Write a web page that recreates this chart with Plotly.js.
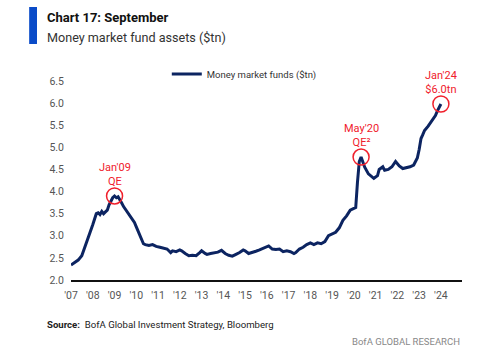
<!DOCTYPE html>
<html>
<head>
<meta charset="utf-8">
<script src="https://cdn.plot.ly/plotly-3.0.1.min.js"></script>
<style>
html,body{margin:0;padding:0;background:#fff;}
#chart{width:500px;height:352px;}
</style>
</head>
<body>
<div id="chart"></div>
<script>
// Money market fund assets ($tn)
const dates = [
"2007-01","2007-03","2007-05","2007-07","2007-08","2007-09","2007-10","2007-11","2007-12",
"2008-01","2008-02","2008-03","2008-04","2008-05","2008-06","2008-07","2008-08","2008-09","2008-10","2008-11","2008-12",
"2009-01","2009-02","2009-03","2009-04","2009-05","2009-06","2009-07","2009-08","2009-09","2009-10","2009-11","2009-12",
"2010-01","2010-02","2010-03","2010-04","2010-05","2010-06","2010-08","2010-10","2010-12",
"2011-02","2011-04","2011-06","2011-07","2011-08","2011-09","2011-11",
"2012-01","2012-02","2012-04","2012-06","2012-08","2012-10","2012-12",
"2013-01","2013-03","2013-04","2013-06","2013-08","2013-10","2013-12",
"2014-02","2014-04","2014-06","2014-08","2014-10","2014-12",
"2015-01","2015-03","2015-05","2015-07","2015-09","2015-11",
"2016-01","2016-02","2016-04","2016-06","2016-08","2016-10","2016-12",
"2017-02","2017-04","2017-05","2017-07","2017-09","2017-11",
"2018-01","2018-03","2018-05","2018-07","2018-09","2018-11",
"2019-01","2019-03","2019-05","2019-07","2019-09","2019-11",
"2020-01","2020-02","2020-03","2020-04","2020-05","2020-06","2020-07","2020-09","2020-11","2020-12",
"2021-02","2021-03","2021-05","2021-06","2021-08","2021-10","2021-12",
"2022-01","2022-02","2022-04","2022-06","2022-08","2022-10","2022-12",
"2023-01","2023-02","2023-03","2023-04","2023-06","2023-08","2023-10","2023-11","2023-12",
"2024-01"
];
const assets = [
2.34,2.40,2.45,2.55,2.66,2.80,2.92,3.02,3.12,
3.25,3.38,3.50,3.52,3.48,3.55,3.50,3.54,3.58,3.70,3.80,3.86,
3.90,3.86,3.88,3.82,3.74,3.66,3.60,3.55,3.50,3.42,3.35,3.30,
3.20,3.10,2.98,2.88,2.82,2.80,2.78,2.80,2.76,
2.74,2.72,2.70,2.66,2.62,2.66,2.64,
2.68,2.66,2.60,2.55,2.56,2.55,2.62,
2.66,2.60,2.58,2.60,2.62,2.63,2.67,
2.60,2.56,2.54,2.58,2.62,2.68,
2.66,2.60,2.62,2.65,2.68,2.72,
2.75,2.77,2.70,2.69,2.70,2.64,2.66,
2.64,2.60,2.62,2.70,2.74,2.80,
2.84,2.80,2.84,2.82,2.87,3.00,
3.05,3.08,3.18,3.35,3.45,3.58,
3.62,3.64,4.20,4.68,4.78,4.65,4.55,4.40,4.32,4.30,
4.36,4.50,4.56,4.48,4.50,4.56,4.68,
4.62,4.58,4.52,4.54,4.56,4.60,4.76,
4.95,5.20,5.28,5.38,5.48,5.60,5.72,5.82,5.92,
5.98
];
const yearTicks = ["2007","2008","2009","2010","2011","2012","2013","2014","2015","2016","2017","2018","2019","2020","2021","2022","2023","2024"];
const yearLabels = ["'07","'08","'09","'10","'11","'12","'13","'14","'15","'16","'17","'18","'19","'20","'21","'22","'23","'24"];
const yTicks = [2.0,2.5,3.0,3.5,4.0,4.5,5.0,5.5,6.0,6.5];
const callouts = [
  {date:"2009-01", value:3.90, text:"Jan'09<br>QE"},
  {date:"2020-05", value:4.78, text:"May'20<br>QE²"},
  {date:"2024-01", value:5.98, text:"Jan'24<br>$6.0tn"}
];

const navy = "#0c2461";
const red = "#f0202c";
const fontFam = "Roboto, 'Open Sans', Arial, sans-serif";

const trace = {
  x: dates.map(d => d + "-01"),
  y: assets,
  type: "scatter",
  mode: "lines",
  name: "Money market funds ($tn)",
  line: {color: navy, width: 3}
};

const shapes = [
  // blue title bar
  {type:"rect", xref:"paper", yref:"paper", x0:-0.107, x1:-0.087, y0:1.186, y1:1.372, fillcolor:"#0a4bc8", line:{width:0}},
];
callouts.forEach(c => {
  shapes.push({type:"circle", xref:"x", yref:"y", xsizemode:"pixel", ysizemode:"pixel",
    xanchor:c.date+"-01", yanchor:c.value, x0:-8, x1:8, y0:-8, y1:8,
    line:{color:red, width:1.5}});
});

const annotations = callouts.map(c => ({
  x:c.date+"-01", y:c.value, xref:"x", yref:"y", text:c.text, showarrow:true,
  arrowcolor:"rgba(0,0,0,0)", ax:0, ay:-6, yanchor:"bottom",
  font:{family:fontFam, size:11, color:red}, align:"center"
}));
annotations.push(
  {xref:"paper", yref:"paper", x:-0.066, y:1.317, xanchor:"left", yanchor:"middle", showarrow:false,
   text:"<b>Chart 17: September</b>", font:{family:fontFam, size:13, color:"#111"}},
  {xref:"paper", yref:"paper", x:-0.066, y:1.221, xanchor:"left", yanchor:"middle", showarrow:false,
   text:"Money market fund assets ($tn)", font:{family:fontFam, size:12.6, color:"#333"}},
  {xref:"paper", yref:"paper", x:-0.066, y:-0.226, xanchor:"left", yanchor:"middle", showarrow:false,
   text:"<b>Source:</b>  BofA Global Investment Strategy, Bloomberg", font:{family:fontFam, size:9.6, color:"#222"}},
  {xref:"paper", yref:"paper", x:1.0, y:-0.307, xanchor:"right", yanchor:"middle", showarrow:false,
   text:"BofA GLOBAL RESEARCH", font:{family:fontFam, size:9.5, color:"#888"}}
);

const layout = {
  width:500, height:352,
  margin:{l:71, r:38, t:81, b:72},
  paper_bgcolor:"#fff", plot_bgcolor:"#fff",
  font:{family:fontFam, color:"#555"},
  showlegend:true,
  legend:{x:0.245, y:1.035, xanchor:"left", yanchor:"middle", orientation:"h",
    font:{family:fontFam, size:9.5, color:"#333"}, bgcolor:"rgba(0,0,0,0)", itemwidth:30, tracegroupgap:0},
  xaxis:{type:"date", range:["2007-01-01","2024-12-20"], tickvals:yearTicks.map(y=>y+"-01-01"), ticktext:yearLabels,
    showgrid:false, zeroline:false, showline:true, linecolor:"#111", linewidth:1.5,
    ticks:"", ticklabelstandoff:5, tickfont:{family:fontFam, size:10.5, color:"#555"}},
  yaxis:{range:[2.0,6.5], tickvals:yTicks, ticktext:yTicks.map(v=>v.toFixed(1)),
    showgrid:false, zeroline:false, showline:false, ticks:"", ticklabelstandoff:6,
    tickfont:{family:fontFam, size:10.5, color:"#555"}},
  shapes:shapes,
  annotations:annotations
};

Plotly.newPlot("chart", [trace], layout, {displayModeBar:false, staticPlot:true});
</script>
</body>
</html>
